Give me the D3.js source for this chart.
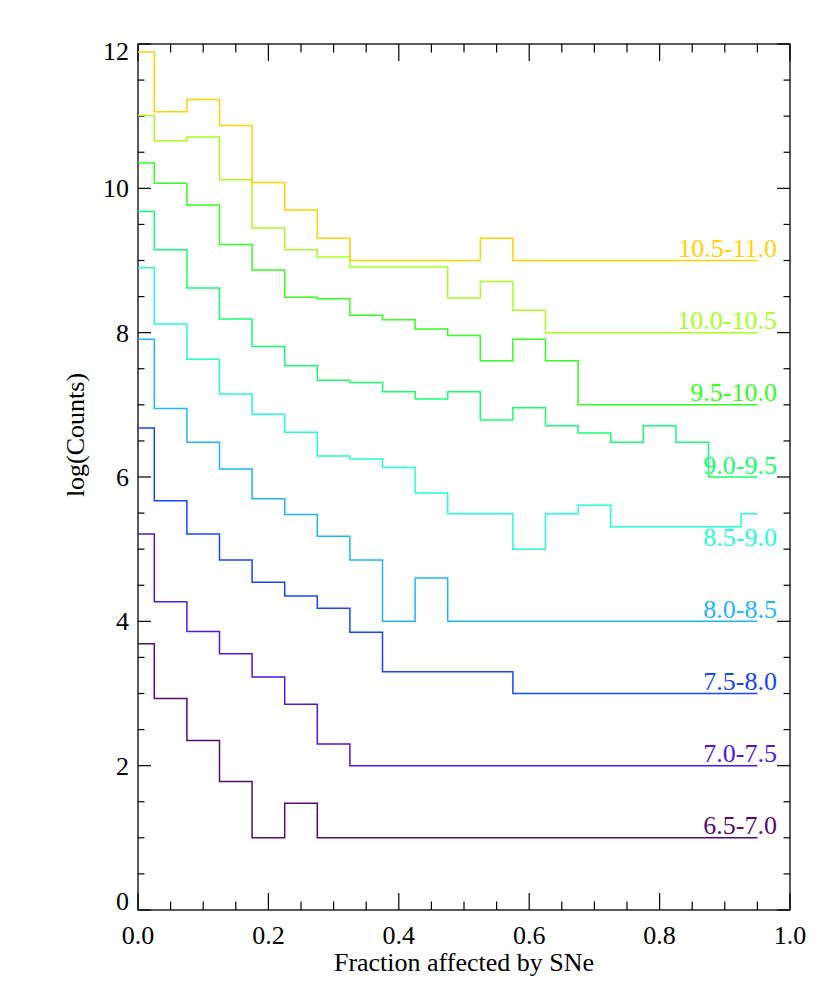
<!DOCTYPE html>
<html>
<head>
<meta charset="utf-8">
<script src="https://cdn.jsdelivr.net/npm/d3@7"></script>
<style>
  html, body { margin: 0; padding: 0; background: #fff; }
  svg { display: block; }
</style>
</head>
<body>
<svg id="chart" width="830" height="998" font-family="'Liberation Serif', 'Times New Roman', Times, serif"></svg>
<script>
// ---- data ----
const binCenters = [0.00,0.05,0.10,0.15,0.20,0.25,0.30,0.35,0.40,0.45,0.50,0.55,0.60,0.65,0.70,0.75,0.80,0.85,0.90,0.95];

const seriesNames = ["6.5-7.0","7.0-7.5","7.5-8.0","8.0-8.5","8.5-9.0","9.0-9.5","9.5-10.0","10.0-10.5","10.5-11.0"];
const seriesColors = ["#5a0a6e","#5016e0","#1446ff","#1eb4ff","#1effd2","#14ff6e","#32ff1e","#a5ff1e","#ffd200"];
const labelLevels = [1,2,3,4,5,6,7,8,9];

const m65_70  = [3.69,2.93,2.35,1.78,1.00,1.48,1.00,1.00,1.00,1.00,1.00,1.00,1.00,1.00,1.00,1.00,1.00,1.00,1.00,1.00];
const m70_75  = [5.21,4.27,3.86,3.55,3.23,2.85,2.30,2.00,2.00,2.00,2.00,2.00,2.00,2.00,2.00,2.00,2.00,2.00,2.00,2.00];
const m75_80  = [6.68,5.67,5.21,4.85,4.54,4.35,4.18,3.85,3.30,3.30,3.30,3.30,3.00,3.00,3.00,3.00,3.00,3.00,3.00,3.00];
const m80_85  = [7.91,6.95,6.48,6.11,5.70,5.48,5.18,4.85,4.00,4.60,4.00,4.00,4.00,4.00,4.00,4.00,4.00,4.00,4.00,4.00];
const m85_90  = [8.90,8.12,7.63,7.15,6.87,6.62,6.29,6.25,6.13,5.78,5.49,5.49,5.00,5.49,5.61,5.31,5.31,5.31,5.31,5.49];
const m90_95  = [9.68,9.15,8.62,8.19,7.81,7.54,7.34,7.31,7.18,7.08,7.18,6.79,6.96,6.71,6.61,6.48,6.71,6.48,6.00,6.00];
const m95_100 = [10.35,10.07,9.77,9.22,8.87,8.49,8.47,8.24,8.18,8.05,7.96,7.61,7.91,7.61,7.00,7.00,7.00,7.00,7.00,7.00];
const m100_105= [11.01,10.66,10.71,10.12,9.45,9.15,9.05,8.91,8.91,8.91,8.48,8.71,8.31,8.00,8.00,8.00,8.00,8.00,8.00,8.00];
const m105_110= [11.89,11.06,11.23,10.87,10.08,9.70,9.31,9.00,9.00,9.00,9.00,9.31,9.00,9.00,9.00,9.00,9.00,9.00,9.00,9.00];

const seriesValues = [m65_70,m70_75,m75_80,m80_85,m85_90,m90_95,m95_100,m100_105,m105_110];

const xTickLabels = ["0.0","0.2","0.4","0.6","0.8","1.0"];
const yTickLabels = ["0","2","4","6","8","10","12"];

// ---- layout ----
const W = 830, H = 998;
const margin = {left: 138, top: 44, right: 40, bottom: 88};
const iw = W - margin.left - margin.right;
const ih = H - margin.top - margin.bottom;
const FS = 26;

const svg = d3.select("#chart");
const g = svg.append("g").attr("transform", `translate(${margin.left},${margin.top})`);

const x = d3.scaleLinear().domain([0, 1]).range([0, iw]);
const y = d3.scaleLinear().domain([0, 12]).range([ih, 0]);

const xMajor = [0,0.2,0.4,0.6,0.8,1.0];
const xMinor = d3.range(0, 21).map(i => i * 0.05).filter(v => Math.abs(v*5 - Math.round(v*5)) > 1e-6);
const yMajor = [0,2,4,6,8,10,12];
const yMinor = d3.range(0, 25).map(i => i * 0.5).filter(v => Math.abs(v/2 - Math.round(v/2)) > 1e-6);

const ticks = g.append("g").attr("stroke", "#000").attr("stroke-width", 1.2);
[[xMajor, 17],[xMinor, 8.5]].forEach(([vals, len]) => {
  vals.forEach(v => {
    ticks.append("line").attr("x1", x(v)).attr("x2", x(v)).attr("y1", ih).attr("y2", ih - len);
    ticks.append("line").attr("x1", x(v)).attr("x2", x(v)).attr("y1", 0).attr("y2", len);
  });
});
[[yMajor, 13],[yMinor, 6.5]].forEach(([vals, len]) => {
  vals.forEach(v => {
    ticks.append("line").attr("x1", 0).attr("x2", len).attr("y1", y(v)).attr("y2", y(v));
    ticks.append("line").attr("x1", iw).attr("x2", iw - len).attr("y1", y(v)).attr("y2", y(v));
  });
});

g.append("rect").attr("x", 0).attr("y", 0).attr("width", iw).attr("height", ih)
  .attr("fill", "none").attr("stroke", "#000").attr("stroke-width", 1.3);

const line = d3.line().x(d => x(d[0])).y(d => y(d[1])).curve(d3.curveStep);
seriesValues.forEach((vals, i) => {
  const pts = binCenters.map((c, j) => [c, vals[j]]);
  g.append("path").attr("d", line(pts)).attr("fill", "none")
    .attr("stroke", seriesColors[i]).attr("stroke-width", 1.5);
  g.append("text").attr("x", 639).attr("y", y(labelLevels[i]) - 3.5)
    .attr("text-anchor", "end").attr("font-size", FS).attr("fill", seriesColors[i])
    .text(seriesNames[i]);
});

xMajor.forEach((v, i) => {
  g.append("text").attr("x", x(v)).attr("y", ih + 33.5).attr("text-anchor", "middle")
    .attr("font-size", FS).attr("fill", "#000").text(xTickLabels[i]);
});
yMajor.forEach((v, i) => {
  let yy = y(v) + 9;
  if (i === 0) yy = y(v);
  if (i === yMajor.length - 1) yy = y(v) + 15.5;
  g.append("text").attr("x", -9).attr("y", yy).attr("text-anchor", "end")
    .attr("font-size", FS).attr("fill", "#000").text(yTickLabels[i]);
});

g.append("text").attr("x", iw / 2).attr("y", ih + 61).attr("text-anchor", "middle")
  .attr("font-size", FS).attr("fill", "#000").text("Fraction affected by SNe");
svg.append("text").attr("transform", `translate(84,435) rotate(-90)`).attr("text-anchor", "middle")
  .attr("font-size", FS).attr("fill", "#000").text("log(Counts)");
</script>
</body>
</html>
